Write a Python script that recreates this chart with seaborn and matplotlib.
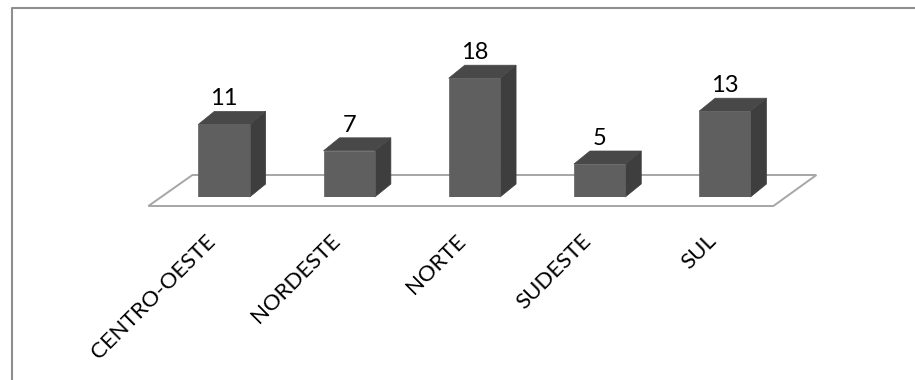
import matplotlib
matplotlib.use("Agg")
import matplotlib.pyplot as plt
from matplotlib.patches import Polygon
from matplotlib.lines import Line2D
from matplotlib.transforms import ScaledTranslation, IdentityTransform
import seaborn as sns
import pandas as pd

regioes = ["CENTRO-OESTE", "NORDESTE", "NORTE", "SUDESTE", "SUL"]
valores = [11, 7, 18, 5, 13]

COR_FRENTE = "#5f5f5f"
COR_LADO = "#3e3e3e"
COR_TOPO = "#484848"
PROF_X, PROF_Y = 16, 13  # bar depth in pixels

sns.set_theme(style="white")
plt.rcParams["font.family"] = ["Lato", "DejaVu Sans"]

W, H, DPI = 915, 380, 100
fig = plt.figure(figsize=(W / DPI, H / DPI), dpi=DPI, facecolor="white")
ax = fig.add_axes([161.4 / W, 183 / H, 626 / W, 165 / H])

df = pd.DataFrame({"regiao": regioes, "total": valores})
sns.barplot(data=df, x="regiao", y="total", ax=ax, width=0.41,
            color=COR_FRENTE, saturation=1, edgecolor=COR_FRENTE,
            linewidth=0.5, zorder=3)
barras = list(ax.patches)

ax.set_xlim(-0.5, len(regioes) - 0.5)
ax.set_ylim(0, 25)
ax.set_yticks([])
ax.set_xlabel("")
ax.set_ylabel("")
for s in ax.spines.values():
    s.set_visible(False)
ax.patch.set_alpha(0)

fig.canvas.draw()
td = ax.transData
ident = IdentityTransform()

# floor of the 3D chart
x0, x1 = ax.get_xlim()
fl = td.transform((x0, 0))
fr = td.transform((x1, 0))
piso = [(fl[0] - 13, fl[1] - 9), (fr[0] - 14, fr[1] - 9),
        (fr[0] + 29, fr[1] + 22), (fl[0] + 31, fl[1] + 22)]
ax.add_artist(Polygon(piso, closed=True, transform=ident, clip_on=False,
                      facecolor="white", edgecolor="#a6a6a6",
                      linewidth=1.4, zorder=1))

# side and top faces for each bar
for p in barras:
    bx, bw, bh = p.get_x(), p.get_width(), p.get_height()
    (xa, ya) = td.transform((bx, 0))
    (xb, yb) = td.transform((bx + bw, bh))
    lado = [(xb, ya), (xb, yb), (xb + PROF_X, yb + PROF_Y), (xb + PROF_X, ya + PROF_Y)]
    topo = [(xa, yb), (xb, yb), (xb + PROF_X, yb + PROF_Y), (xa + PROF_X, yb + PROF_Y)]
    for pts, cor in ((lado, COR_LADO), (topo, COR_TOPO)):
        ax.add_artist(Polygon(pts, closed=True, transform=ident, clip_on=False,
                              facecolor=cor, edgecolor=cor, linewidth=0.5,
                              zorder=2))

# value labels above each bar
off_val = ScaledTranslation(0, 19 / DPI, fig.dpi_scale_trans)
for i, v in enumerate(valores):
    ax.text(i, v, str(v), ha="center", va="baseline", fontsize=17,
            color="black", transform=td + off_val, zorder=5, clip_on=False)

# rotated category labels
ax.tick_params(axis="x", length=0, pad=0, labelsize=16, labelcolor="black")
ax.set_xticks(range(len(regioes)))
ax.set_xticklabels(regioes)
off_lab = ScaledTranslation(-12 / DPI, -41 / DPI, fig.dpi_scale_trans)
for lab in ax.get_xticklabels():
    lab.set_rotation(45)
    lab.set_ha("right")
    lab.set_va("center")
    lab.set_rotation_mode("anchor")
    lab.set_transform(lab.get_transform() + off_lab)

# outer frame (left and top edges)
borda = Line2D([11.5, 11.5, W + 5], [-5, H - 7.5, H - 7.5],
               transform=ident, color="#8f8f8f", linewidth=1.5)
fig.lines.append(borda)

fig.savefig("out.png", dpi=DPI, facecolor="white")
